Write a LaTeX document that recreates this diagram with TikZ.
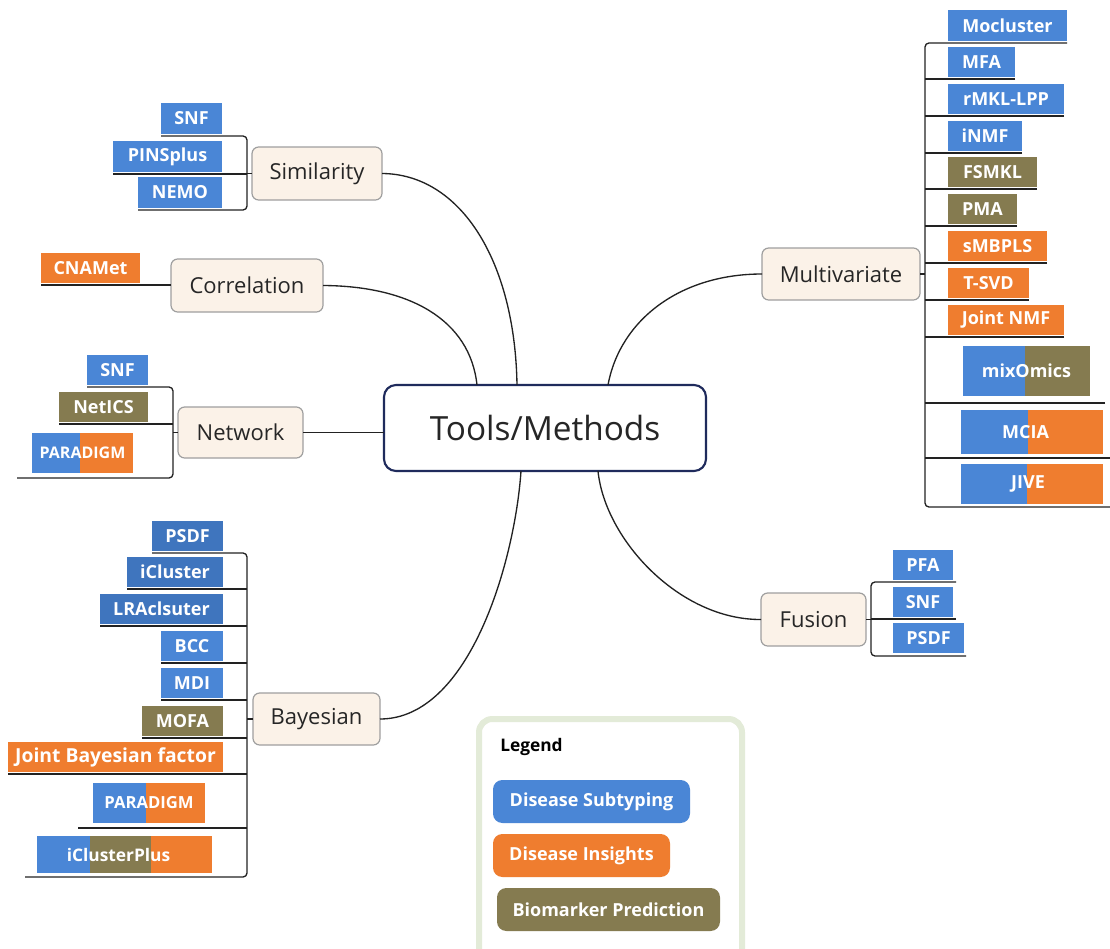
\documentclass[tikz,border=0pt]{standalone}
\usepackage{fontspec}
\setmainfont{Open Sans}
\usetikzlibrary{calc}
\definecolor{cblue}{HTML}{4A86D6}
\definecolor{cdblue}{HTML}{3F75BE}
\definecolor{corange}{HTML}{EF7D2F}
\definecolor{colive}{HTML}{857B50}
\definecolor{ccream}{HTML}{FBF2E8}
\definecolor{cnavy}{HTML}{1F2B5C}
\definecolor{clegbd}{HTML}{E3EBD8}
\definecolor{cline}{HTML}{222222}
\begin{document}
\begin{tikzpicture}[x=0.75pt,y=-0.75pt,
 mybox/.style args={#1,#2,#3,#4}{at={({(#1+#3)/2},{(#2+#4)/2})}, anchor=center, minimum width={(#3-#1)*0.75pt}, minimum height={(#4-#2)*0.75pt}},
 leaf/.style={inner sep=0pt, outer sep=0pt, text=white, font=\bfseries\fontsize{13.5}{15}\selectfont},
 branch/.style={draw=gray!75, fill=ccream, rounded corners=5pt, line width=0.9pt, inner sep=0pt, outer sep=0pt, font=\fontsize{16.5}{19}\selectfont, text=black!85},
 conn/.style={draw=cline, line width=1pt},
 legitem/.style={rounded corners=7pt, inner sep=0pt, outer sep=0pt, text=white, font=\bfseries\fontsize{13.5}{15}\selectfont}]
\useasboundingbox (0,0) rectangle (1110,949);
\fill[white] (0,0) rectangle (1110,949);

% central node
\node[draw=cnavy, line width=1.6pt, rounded corners=9pt, fill=white, mybox={384,385,706,471}, inner sep=0pt, outer sep=0pt, font=\fontsize{25}{28}\selectfont, text=black!85] (tm) {Tools/Methods};

% branches
\node[branch, mybox={252,147,382,200}] (sim) {Similarity};
\node[branch, mybox={171,259,323,312}] (cor) {Correlation};
\node[branch, mybox={178,407,303,458}] (net) {Network};
\node[branch, mybox={762,248,920,300}] (mul) {Multivariate};
\node[branch, mybox={761,593,866,646}] (fus) {Fusion};
\node[branch, mybox={253,693,380,745}] (bay) {Bayesian};

% main connectors
\draw[conn] (sim.east) .. controls (460,174) and (515,260) .. ($(tm.north)+(-28,0)$);
\draw[conn] (cor.east) .. controls (410,286) and (470,320) .. ($(tm.north)+(-68,0)$);
\draw[conn] (net.east) -- (tm.west|-net.east);
\draw[conn] (mul.west) .. controls (680,274) and (620,320) .. ($(tm.north)+(63,0)$);
\draw[conn] (bay.east) .. controls (470,719) and (515,560) .. ($(tm.south)+(-24,0)$);
\draw[conn] (fus.west) .. controls (680,620) and (605,540) .. ($(tm.south)+(53,0)$);

% Similarity leaves
\node[leaf, fill=cblue, mybox={161,103,222,134}] (ss1) {SNF};
\node[leaf, fill=cblue, mybox={113,141,222,172}] (ss2) {PINSplus};
\node[leaf, fill=cblue, mybox={138,177,222,208}] (ss3) {NEMO};
\coordinate (simsp) at (247,173);
\draw[conn,rounded corners=3pt] ($(ss1.south west)+(0,2)$) -- ($(simsp|-ss1.south)+(0,2)$) -- ($(simsp|-ss3.south)+(0,2)$) -- ($(ss3.south west)+(0,2)$);
\draw[conn] ($(ss2.south west)+(0,2)$) -- ($(simsp|-ss2.south)+(0,2)$);
\draw[conn] (simsp|-sim.west) -- (sim.west);

% Correlation leaf
\node[leaf, fill=corange, mybox={41,253,140,283}] (cc1) {CNAMet};
\draw[conn] ($(cc1.south west)+(0,2)$) -- ($(cor.west|-cc1.south)+(0,2)$);

% Network leaves
\node[leaf, fill=cblue, mybox={87,355,148,385}] (ns1) {SNF};
\node[leaf, fill=colive, mybox={59,392,148,422}] (ns2) {NetICS};
\fill[cblue] (32,433) rectangle (80,473);
\fill[corange] (80,433) rectangle (133,473);
\node[leaf, mybox={32,433,133,473}, font=\bfseries\fontsize{12}{14}\selectfont] (ns3) {PARADIGM};
\coordinate (netsp) at (173,432);
\draw[conn,rounded corners=3pt] ($(ns1.south west)+(0,2)$) -- ($(netsp|-ns1.south)+(0,2)$) -- ($(netsp|-ns3.south)+(0,5)$) -- ($(ns3.south west)+(-15,5)$);
\draw[conn] ($(ns2.south west)+(0,2)$) -- ($(netsp|-ns2.south)+(0,2)$);
\draw[conn] (netsp|-net.west) -- (net.west);

% Bayesian leaves
\node[leaf, fill=cdblue, mybox={152,521,223,551}] (bs1) {PSDF};
\node[leaf, fill=cdblue, mybox={127,557,223,587}] (bs2) {iCluster};
\node[leaf, fill=cdblue, mybox={100,594,223,624}] (bs3) {LRAclsuter};
\node[leaf, fill=cblue, mybox={161,631,223,661}] (bs4) {BCC};
\node[leaf, fill=cblue, mybox={161,668,223,698}] (bs5) {MDI};
\node[leaf, fill=colive, mybox={142,706,223,736}] (bs6) {MOFA};
\node[leaf, fill=corange, mybox={8,742,223,772}, font=\bfseries\fontsize{14.5}{16}\selectfont] (bs7) {Joint Bayesian factor};
\fill[cblue] (93,783) rectangle (146,823);
\fill[corange] (146,783) rectangle (205,823);
\node[leaf, mybox={93,783,205,823}, font=\bfseries\fontsize{12.5}{14}\selectfont] (bs8) {PARADIGM};
\fill[cblue] (37,836) rectangle (90,873);
\fill[colive] (90,836) rectangle (151,873);
\fill[corange] (151,836) rectangle (212,873);
\node[leaf, mybox={37,836,200,873}, font=\bfseries\fontsize{13}{14}\selectfont] (bs9) {iClusterPlus};
\coordinate (baysp) at (247,719);
\draw[conn,rounded corners=3pt] ($(bs1.south west)+(0,2)$) -- ($(baysp|-bs1.south)+(0,2)$) -- ($(baysp|-bs9.south)+(0,4)$) -- ($(bs9.south west)+(-12,4)$);
\foreach \n in {bs2,bs3,bs4,bs5,bs6,bs7}
  \draw[conn] ($(\n.south west)+(0,2)$) -- ($(baysp|-\n.south)+(0,2)$);
\draw[conn] ($(bs8.south west)+(-15,5)$) -- ($(baysp|-bs8.south)+(0,5)$);
\draw[conn] (baysp|-bay.west) -- (bay.west);

% Multivariate leaves
\node[leaf, fill=cblue, mybox={948,10,1067,41}] (ms1) {Mocluster};
\node[leaf, fill=cblue, mybox={948,47,1015,77}] (ms2) {MFA};
\node[leaf, fill=cblue, mybox={948,84,1064,114}] (ms3) {rMKL-LPP};
\node[leaf, fill=cblue, mybox={948,121,1022,151}] (ms4) {iNMF};
\node[leaf, fill=colive, mybox={948,157,1037,187}] (ms5) {FSMKL};
\node[leaf, fill=colive, mybox={948,194,1017,224}] (ms6) {PMA};
\node[leaf, fill=corange, mybox={948,231,1047,261}] (ms7) {sMBPLS};
\node[leaf, fill=corange, mybox={948,268,1029,298}] (ms8) {T-SVD};
\node[leaf, fill=corange, mybox={948,305,1064,335}] (ms9) {Joint NMF};
\fill[cblue] (963,346) rectangle (1025,396);
\fill[colive] (1025,346) rectangle (1090,396);
\node[leaf, mybox={963,346,1090,396}] (ms10) {mixOmics};
\fill[cblue] (961,410) rectangle (1028,454);
\fill[corange] (1028,410) rectangle (1103,454);
\node[leaf, mybox={961,410,1090,454}] (ms11) {MCIA};
\fill[cblue] (961,464) rectangle (1027,504);
\fill[corange] (1027,464) rectangle (1103,504);
\node[leaf, mybox={961,464,1095,504}] (ms12) {JIVE};
\coordinate (mulsp) at (925,274);
\draw[conn,rounded corners=3pt] ($(ms1.south east)+(0,2)$) -- ($(mulsp|-ms1.south)+(0,2)$) -- ($(mulsp|-ms12.south)+(0,3)$) -- ($(ms12.south east)+(15,3)$);
\foreach \n in {ms2,ms3,ms4,ms5,ms6,ms7,ms8,ms9}
  \draw[conn] ($(\n.south east)+(0,2)$) -- ($(mulsp|-\n.south)+(0,2)$);
\draw[conn] ($(ms10.south east)+(15,7)$) -- ($(mulsp|-ms10.south)+(0,7)$);
\draw[conn] ($(ms11.south east)+(20,4)$) -- ($(mulsp|-ms11.south)+(0,4)$);
\draw[conn] (mulsp|-mul.east) -- (mul.east);

% Fusion leaves
\node[leaf, fill=cblue, mybox={893,550,953,580}] (fs1) {PFA};
\node[leaf, fill=cblue, mybox={893,587,953,617}] (fs2) {SNF};
\node[leaf, fill=cblue, mybox={893,623,964,653}] (fs3) {PSDF};
\coordinate (fussp) at (871,619);
\draw[conn,rounded corners=3pt] ($(fs1.south east)+(3,2)$) -- ($(fussp|-fs1.south)+(0,2)$) -- ($(fussp|-fs3.south)+(0,3)$) -- ($(fs3.south east)+(2,3)$);
\draw[conn] ($(fs2.south east)+(3,2)$) -- ($(fussp|-fs2.south)+(0,2)$);
\draw[conn] (fus.east) -- (fussp|-fus.east);

% Legend
\draw[draw=clegbd, line width=4.5pt, rounded corners=10pt, fill=white] (479,719) rectangle (742,965);
\node[anchor=west, font=\bfseries\fontsize{13}{15}\selectfont, inner sep=0pt] (lg) at (500,747) {Legend};
\node[legitem, fill=cblue, mybox={493,780,690,823}] (l1) {Disease Subtyping};
\node[legitem, fill=corange, mybox={493,834,670,877}] (l2) {Disease Insights};
\node[legitem, fill=colive, mybox={497,888,720,931}] (l3) {Biomarker Prediction};
\end{tikzpicture}
\end{document}
